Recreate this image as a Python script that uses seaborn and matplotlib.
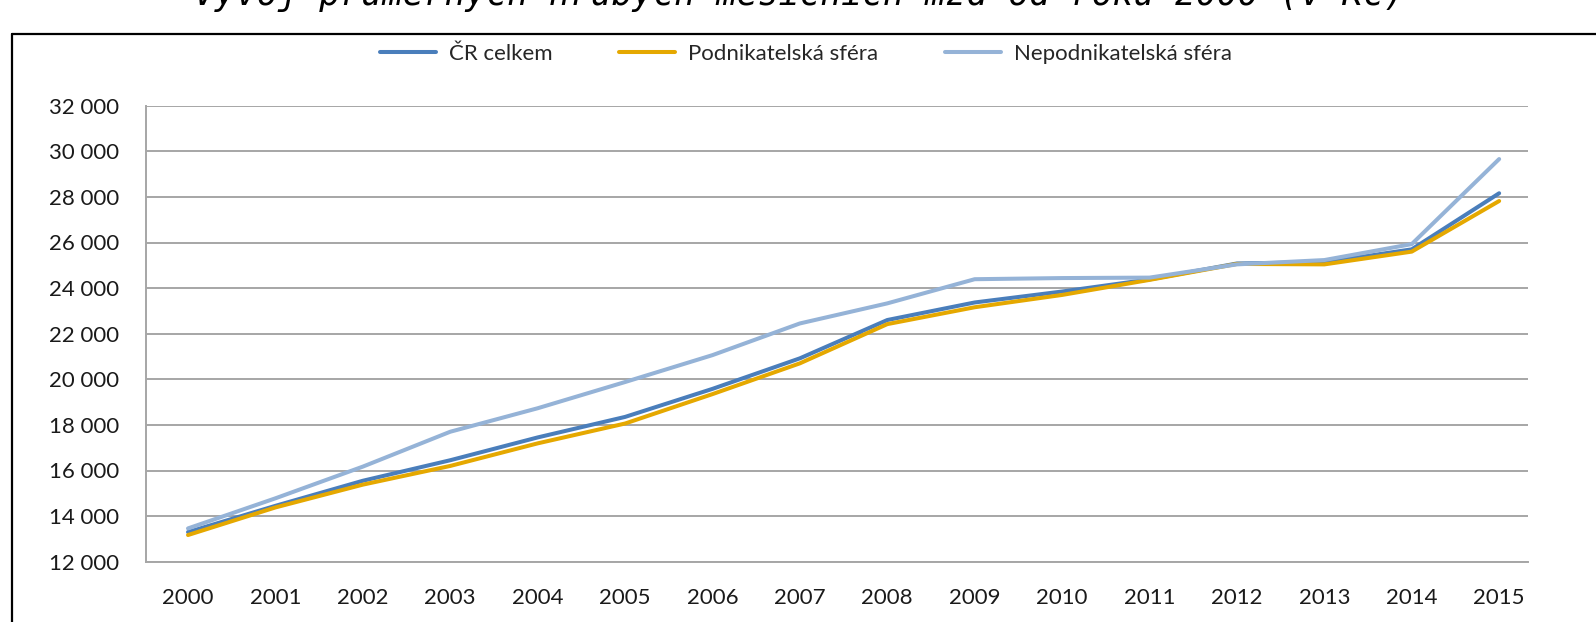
import matplotlib
matplotlib.use("Agg")
import matplotlib.pyplot as plt
from matplotlib.lines import Line2D
from matplotlib.ticker import FuncFormatter, MultipleLocator
import seaborn as sns
import pandas as pd

years = list(range(2000, 2016))
cr_celkem = [13300, 14450, 15550, 16450, 17450, 18350, 19580, 20920, 22600, 23370,
             23850, 24380, 25080, 25130, 25700, 28160]
podnikatelska = [13170, 14380, 15380, 16200, 17190, 18060, 19350, 20700, 22420, 23160,
                 23700, 24360, 25060, 25040, 25600, 27820]
nepodnikatelska = [13460, 14780, 16170, 17700, 18730, 19880, 21060, 22450, 23330, 24390,
                   24440, 24460, 25040, 25230, 25930, 29660]
series_names = ["ČR celkem", "Podnikatelská sféra", "Nepodnikatelská sféra"]
colors = ["#4A7EBB", "#E5A800", "#95B3D7"]
title = "Vývoj průměrných hrubých měsíčních mzd od roku 2000 (v Kč)"

df = pd.DataFrame({
    "rok": years * 3,
    "mzda": cr_celkem + podnikatelska + nepodnikatelska,
    "serie": [series_names[0]] * len(years) + [series_names[1]] * len(years)
             + [series_names[2]] * len(years),
})

sns.set_theme(style="white")
plt.rcParams["font.family"] = ["Lato", "DejaVu Sans"]

W, H = 1596, 622
fig = plt.figure(figsize=(W / 100, H / 100), dpi=100)
ax = fig.add_axes([145.7 / W, 1 - 561.7 / H, (1528 - 145.7) / W, (561.7 - 105.7) / H])

sns.lineplot(data=df, x="rok", y="mzda", hue="serie", hue_order=series_names,
             palette=colors, linewidth=2.9, ax=ax, legend=False)

ax.set_xlim(2000 - 0.484, 2000 + 15.33)
ax.set_ylim(12000, 32000)
ax.yaxis.set_major_locator(MultipleLocator(2000))
ax.yaxis.set_major_formatter(FuncFormatter(lambda v, p: f"{int(v):,}".replace(",", " ")))
ax.set_xticks(years)
ax.set_xticklabels([str(y) for y in years])
ax.set_xlabel("")
ax.set_ylabel("")
ax.grid(axis="y", color="#A6A6A6", linewidth=1.4)
ax.grid(axis="x", visible=False)
ax.set_axisbelow(True)
for s in ["top", "right"]:
    ax.spines[s].set_visible(False)
for s in ["left", "bottom"]:
    ax.spines[s].set_color("#A6A6A6")
    ax.spines[s].set_linewidth(1.4)
ax.tick_params(axis="both", length=0, labelsize=16, colors="#1a1a1a")
ax.tick_params(axis="y", pad=19)
ax.tick_params(axis="x", pad=19)

handles = [Line2D([0], [0], color=c, lw=2.9) for c in colors]
fig.legend(handles, series_names, loc="center", bbox_to_anchor=(0.505, 1 - 54 / H),
           ncol=3, frameon=False, fontsize=16, handlelength=2.5, handletextpad=0.6,
           columnspacing=3.0)

fig.text(0.5006, 1 - 5 / H, title, ha="center", va="baseline", fontsize=25,
         family="DejaVu Sans Mono", style="italic", color="black")

fig.add_artist(Line2D([12 / W, 12 / W], [0, 1 - 34 / H], transform=fig.transFigure,
                      color="black", lw=1.6))
fig.add_artist(Line2D([12 / W, 1], [1 - 34 / H, 1 - 34 / H], transform=fig.transFigure,
                      color="black", lw=1.6))

fig.savefig("out.png", dpi=100)
